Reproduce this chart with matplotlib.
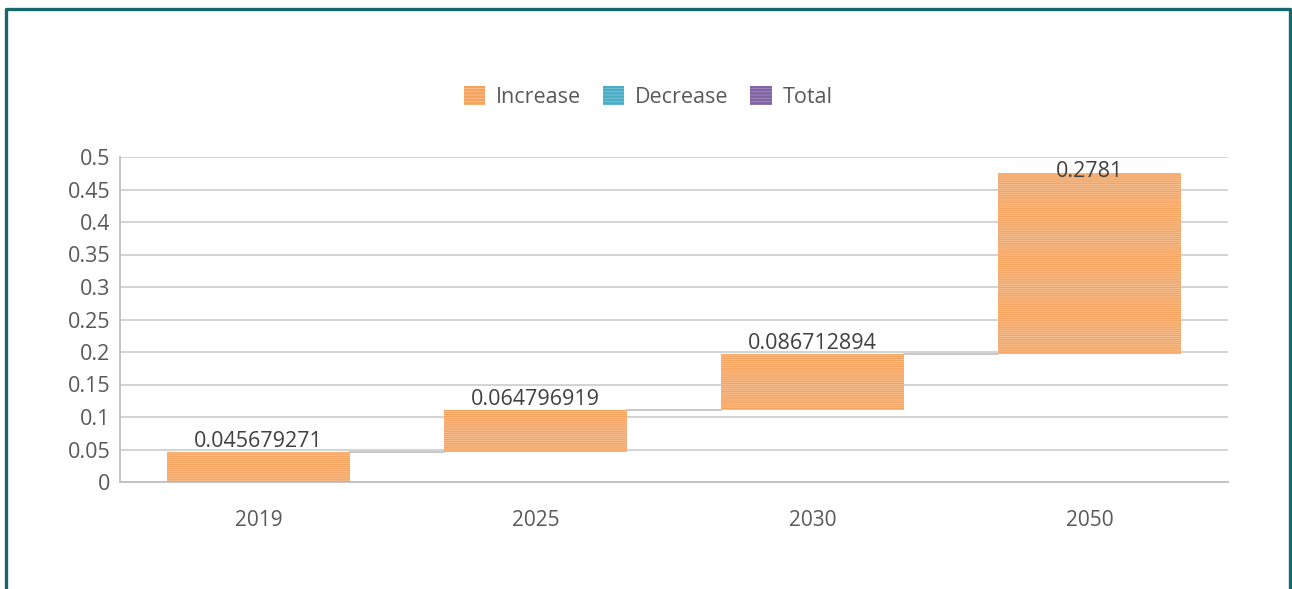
import matplotlib.pyplot as plt
import numpy as np
from matplotlib.patches import Patch
from matplotlib.lines import Line2D

plt.rcParams['font.family'] = ['Open Sans', 'DejaVu Sans']
plt.rcParams['hatch.linewidth'] = 0.6

# data
years = ['2019', '2025', '2030', '2050']
increase = [0.045679271, 0.064796919, 0.086712894, 0.2781]
labels = ['0.045679271', '0.064796919', '0.086712894', '0.2781']

yticks = [0, 0.05, 0.1, 0.15, 0.2, 0.25, 0.3, 0.35, 0.4, 0.45, 0.5]
ytick_labels = ['0', '0.05', '0.1', '0.15', '0.2', '0.25', '0.3', '0.35', '0.4', '0.45', '0.5']

# colours
c_inc = '#F5A25D'
c_inc_stripe = '#F9C497'
c_dec = '#4BACC6'
c_tot = '#8064A2'
txt = '#595959'
grid_c = '#D0D0D0'

ends = np.cumsum(increase)
starts = ends - np.array(increase)
x = np.arange(len(years))
width = 0.66

fig = plt.figure(figsize=(12.92, 5.89), dpi=100)
ax = fig.add_axes([120 / 1292, 1 - 482 / 589, 1108 / 1292, 325 / 589])

ax.bar(x, increase, bottom=starts, width=width, color=c_inc,
       edgecolor=c_inc_stripe, hatch='--------', linewidth=0, zorder=3)

# connector lines between bars
for i in range(len(x) - 1):
    ax.plot([x[i] + width / 2, x[i + 1] - width / 2], [ends[i], ends[i]],
            color='#BFBFBF', linewidth=1.2, zorder=2)

# value labels
ymax = 0.5
for i in range(len(x)):
    if ends[i] + 0.04 > ymax:
        ax.annotate(labels[i], (x[i], ends[i]), xytext=(0, 1), textcoords='offset points',
                    ha='center', va='center', fontsize=15.5, color='#404040', zorder=4)
    else:
        ax.annotate(labels[i], (x[i], ends[i]), xytext=(0, 0), textcoords='offset points',
                    ha='center', va='bottom', fontsize=15.5, color='#404040', zorder=4)

ax.set_xlim(-0.5, len(x) - 0.5)
ax.set_ylim(0, ymax)
ax.set_yticks(yticks)
ax.set_yticklabels(ytick_labels, fontsize=15.5, color=txt)
ax.set_xticks(x)
ax.set_xticklabels(years, fontsize=15, color=txt)
ax.tick_params(axis='both', length=0)
ax.tick_params(axis='y', pad=7)
ax.tick_params(axis='x', pad=20)
ax.yaxis.grid(True, color=grid_c, linewidth=1.3, zorder=0)
ax.set_axisbelow(True)
for s in ['top', 'right']:
    ax.spines[s].set_visible(False)
for s in ['left', 'bottom']:
    ax.spines[s].set_color('#BFBFBF')
    ax.spines[s].set_linewidth(1.3)

handles = [Patch(facecolor=c_inc, edgecolor=c_inc_stripe, hatch='-----', linewidth=0, label='Increase'),
           Patch(facecolor=c_dec, edgecolor='#7CC4D8', hatch='-----', linewidth=0, label='Decrease'),
           Patch(facecolor=c_tot, edgecolor='#A08BBE', hatch='-----', linewidth=0, label='Total')]
fig.legend(handles=handles, loc='center', bbox_to_anchor=(648 / 1292, 1 - 97 / 589),
           ncol=3, frameon=False, fontsize=15.5, labelcolor=txt,
           handlelength=1.0, handleheight=1.0, handletextpad=0.5, columnspacing=1.0)

# teal frame
frame = Line2D([6 / 1292, 6 / 1292, 1290 / 1292, 1290 / 1292],
               [0, 1 - 8.5 / 589, 1 - 8.5 / 589, 0],
               transform=fig.transFigure, color='#17686D', linewidth=2.4)
fig.add_artist(frame)

fig.savefig('out.png', dpi=100)
